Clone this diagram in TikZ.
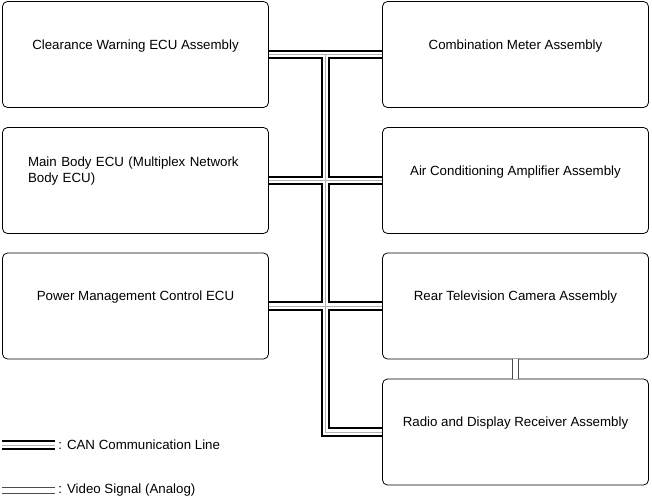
\documentclass[tikz,border=0pt]{standalone}
\usepackage{fontspec}
\setmainfont{Liberation Sans}
\usetikzlibrary{calc}

\begin{document}
\begin{tikzpicture}[x=1pt, y=-1pt, line width=0.8pt,
    ecu/.style={draw, rounded corners=5pt, minimum width=266pt,
        minimum height=106pt, text depth=20pt,
        font=\fontsize{13.3}{16.5}\selectfont},
    can/.style={line width=9.6pt, black,
        postaction={draw, white, line width=5.6pt},
        postaction={draw, gray!60, line width=0.3pt}},
    video/.style={draw=black!70, line width=0.8pt, double=white,
        double distance=5pt},
    legend/.style={anchor=west, inner sep=0pt,
        font=\fontsize{13.3}{16.5}\selectfont}
]
\useasboundingbox (0,0) rectangle (652,500);

% ECUs on the left
\node[ecu] (cw) at (135.5,54.5) {Clearance Warning ECU Assembly};
\node[ecu, align=left, text width=215pt, text depth=38pt] (mb) at (135.5,180.5)
    {Main Body ECU (Multiplex Network\\Body ECU)};
\node[ecu] (pm) at (135.5,306) {Power Management Control ECU};

% ECUs on the right
\node[ecu] (cm) at (515.5,54.5) {Combination Meter Assembly};
\node[ecu] (ac) at (515.5,180.5) {Air Conditioning Amplifier Assembly};
\node[ecu] (rc) at (515.5,306) {Rear Television Camera Assembly};
\node[ecu] (rd) at (515.5,432) {Radio and Display Receiver Assembly};

\coordinate (bus) at ($(cw.east)!0.5!(cm.west)$);

% CAN bus
\draw[can] (cw.east) -- (cm.west)
    (mb.east) -- (ac.west)
    (pm.east) -- (rc.west)
    (bus) |- (rd.west);

% video signal
\draw[video] (rc.south) -- (rd.north);

% legend
\coordinate (canA) at (2,445);
\coordinate (canB) at (55,445);
\coordinate (vidA) at (2,490.5);
\coordinate (vidB) at (55,490.5);
\draw[can] (canA) -- (canB);
\draw[video] (vidA) -- (vidB);
\node[legend] (canlbl) at (58,445) {: CAN Communication Line};
\node[legend] (vidlbl) at (58,490.5) {: Video Signal (Analog)};

\end{tikzpicture}
\end{document}
